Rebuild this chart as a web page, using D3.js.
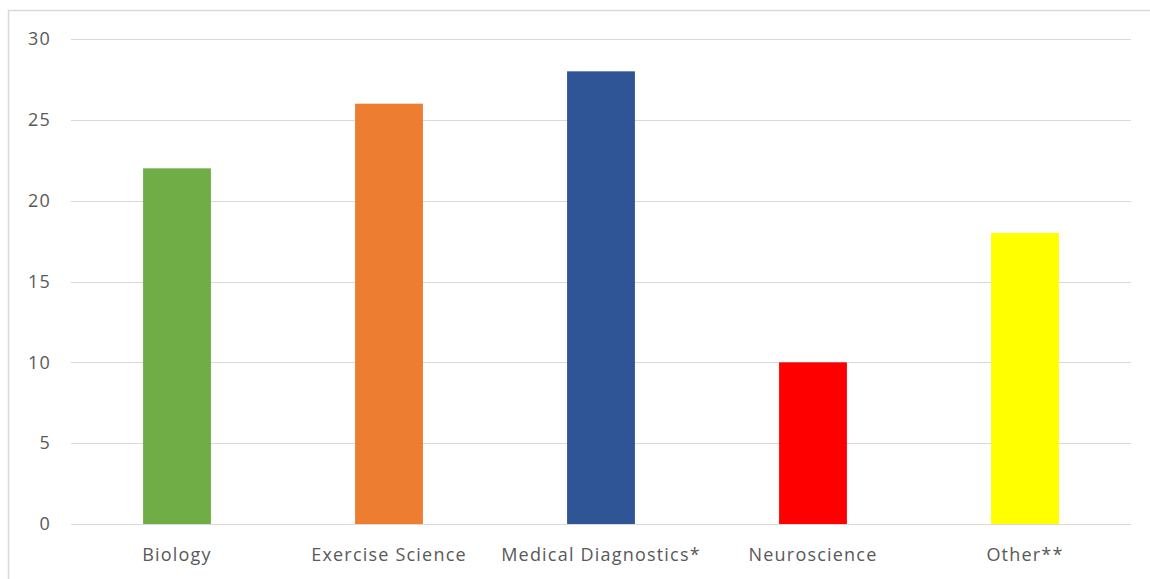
<!DOCTYPE html>
<html>
<head>
<meta charset="utf-8">
<script src="https://cdn.jsdelivr.net/npm/d3@7"></script>
<style>
  html, body { margin: 0; padding: 0; background: #fff; }
  svg { display: block; font-family: "Open Sans", "Noto Sans", sans-serif; }
</style>
</head>
<body>
<svg id="chart" width="1150" height="579"></svg>
<script>
const categories = ["Biology", "Exercise Science", "Medical Diagnostics*", "Neuroscience", "Other**"];
const values = [22, 26, 28, 10, 18];
const colors = ["#70ad47", "#ed7d31", "#2f5597", "#ff0000", "#ffff00"];
const yTicks = [0, 5, 10, 15, 20, 25, 30];

const svg = d3.select("#chart");
const margin = { left: 71, right: 19, top: 39, bottom: 55 };
const W = 1150, H = 579;

// outer frame (top and left edges visible)
svg.append("path")
  .attr("d", `M8.5,${H} L8.5,10.5 L${W},10.5`)
  .attr("fill", "none")
  .attr("stroke", "#d9d9d9")
  .attr("stroke-width", 1.5);

const x = d3.scaleBand()
  .domain(categories)
  .range([margin.left, W - margin.right])
  .paddingInner(0.68)
  .paddingOuter(0.34);

const y = d3.scaleLinear()
  .domain([0, 30])
  .range([H - margin.bottom, margin.top]);

// gridlines
svg.append("g")
  .selectAll("line")
  .data(yTicks)
  .join("line")
  .attr("x1", margin.left)
  .attr("x2", W - margin.right)
  .attr("y1", d => Math.round(y(d)) + 0.5)
  .attr("y2", d => Math.round(y(d)) + 0.5)
  .attr("stroke", "#d9d9d9")
  .attr("stroke-width", 1);

const labelStyle = sel => sel
  .attr("fill", "#595959")
  .style("font-size", "18px")
  .style("letter-spacing", "1.2px")
  .style("font-family", "'Open Sans', 'Noto Sans', sans-serif");

// y-axis labels
const yAxis = d3.axisLeft(y).tickValues(yTicks).tickSize(0).tickPadding(0);
const gy = svg.append("g").attr("transform", "translate(51,0)").call(yAxis);
gy.select(".domain").remove();
gy.selectAll("text").call(labelStyle);

// bars
svg.append("g")
  .selectAll("rect")
  .data(categories)
  .join("rect")
  .attr("x", d => x(d))
  .attr("width", x.bandwidth())
  .attr("y", (d, i) => y(values[i]))
  .attr("height", (d, i) => y(0) - y(values[i]))
  .attr("fill", (d, i) => colors[i]);

// x-axis labels
const xAxis = d3.axisBottom(x).tickSize(0).tickPadding(0);
const gx = svg.append("g").attr("transform", `translate(0,${y(0) + 37})`).call(xAxis);
gx.select(".domain").remove();
gx.selectAll("text").attr("dy", "0").call(labelStyle);
</script>
</body>
</html>
